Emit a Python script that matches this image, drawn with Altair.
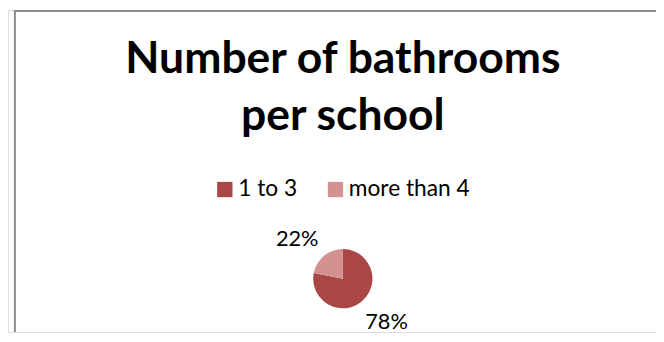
import altair as alt
import pandas as pd

# Data
categories = ["1 to 3", "more than 4"]
values = [78, 22]
labels = ["78%", "22%"]
colors = ["#A94646", "#D39291"]

title_lines = ["Number of bathrooms", "per school"]

W, H = 656, 326
CX, CY = 339, 272

df = pd.DataFrame({"category": categories, "value": values, "label": labels, "idx": [0, 1]})
frame_df = pd.DataFrame({"a": [0]})

FONT = "Lato"

color = alt.Color(
    "category:N",
    scale=alt.Scale(domain=categories, range=colors),
    sort=categories,
    legend=alt.Legend(
        title=None,
        orient="none",
        legendX=208,
        legendY=170,
        direction="horizontal",
        symbolType="square",
        symbolSize=240,
        symbolStrokeWidth=0,
        symbolOpacity=1,
        labelFont=FONT,
        labelFontSize=23,
        labelColor="#000000",
        labelOffset=2,
        columnPadding=27,
        padding=0,
    ),
)

base = alt.Chart(df)

pie = base.mark_arc(outerRadius=30).encode(
    theta=alt.Theta("value:Q", stack=True),
    color=color,
    order=alt.Order("idx:Q"),
    x=alt.value(CX),
    y=alt.value(CY),
)

def label_layer(cat, dx, dy):
    return base.mark_text(font=FONT, fontSize=22, color="#000000", dx=dx, dy=dy).encode(
        theta=alt.Theta("value:Q", stack=True),
        radius=alt.value(60),
        text="label:N",
        order=alt.Order("idx:Q"),
        x=alt.value(CX),
        y=alt.value(CY),
        opacity=alt.condition(alt.datum.category == cat, alt.value(1), alt.value(0)),
    )

text_big = label_layer("1 to 3", 6, -2)
text_small = label_layer("more than 4", -8, 6)

title = alt.Chart(frame_df).mark_text(
    text=title_lines,
    font=FONT,
    fontSize=45,
    fontWeight="bold",
    color="#000000",
    align="center",
    baseline="alphabetic",
    lineHeight=58,
).encode(x=alt.value(339), y=alt.value(64))

left_line = alt.Chart(frame_df).mark_rule(color="#8C8C8C", strokeWidth=2).encode(
    x=alt.value(7), y=alt.value(0), y2=alt.value(H)
)
top_line = alt.Chart(frame_df).mark_rule(color="#8C8C8C", strokeWidth=2).encode(
    y=alt.value(1), x=alt.value(6), x2=alt.value(W)
)

chart = alt.layer(left_line, top_line, title, pie, text_big, text_small).properties(
    width=W,
    height=H,
    padding=0,
    autosize=alt.AutoSizeParams(type="none"),
).configure_view(stroke=None).configure(background="white")

chart.save("out.html", embed_options={"renderer": "svg", "actions": False})
